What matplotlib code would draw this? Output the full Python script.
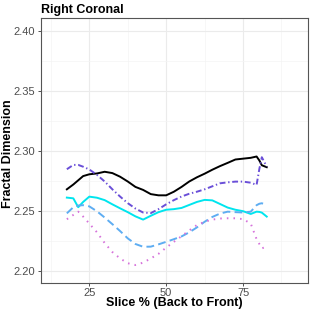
import numpy as np
import matplotlib
matplotlib.use("Agg")
from matplotlib import pyplot as plt
from matplotlib.ticker import FixedLocator

plt.rcParams['font.family'] = ['Liberation Sans', 'DejaVu Sans']

#------------------数据------------------#
slice_pct = [17.7, 19.8, 21.4, 23, 25, 27.5, 30, 32.5, 35, 37.5, 40, 42.5, 45, 47.5,
             50, 52.5, 55, 57.5, 60, 62.5, 65, 67.5, 70, 72.5, 75, 77.5, 79.4, 80.3,
             81.1, 82.7]

fd_black = [2.268, 2.272, 2.2755, 2.279, 2.2805, 2.2812, 2.2826, 2.2815, 2.2785, 2.2745,
            2.270, 2.2675, 2.264, 2.263, 2.263, 2.266, 2.270, 2.2745, 2.278, 2.281,
            2.2843, 2.2873, 2.290, 2.2928, 2.2935, 2.2942, 2.2953, 2.292, 2.288, 2.2864]

fd_purple = [2.2847, 2.2883, 2.2883, 2.2868, 2.2845, 2.280, 2.2745, 2.268, 2.262, 2.2565,
             2.252, 2.2487, 2.2482, 2.2515, 2.2555, 2.259, 2.262, 2.2643, 2.266, 2.268,
             2.2705, 2.273, 2.2738, 2.2744, 2.2744, 2.2735, 2.2717, 2.285, 2.2947, 2.2869]

fd_cyan = [2.2611, 2.2605, 2.2531, 2.2575, 2.2619, 2.261, 2.259, 2.2555, 2.2522, 2.249,
           2.2455, 2.2428, 2.246, 2.249, 2.251, 2.2515, 2.2525, 2.255, 2.2575, 2.2592,
           2.2588, 2.2558, 2.2528, 2.251, 2.2498, 2.2475, 2.2494, 2.2492, 2.2486, 2.2453]

fd_blue = [2.248, 2.2531, 2.2545, 2.2548, 2.2538, 2.2497, 2.2445, 2.239, 2.2333, 2.2272,
           2.2225, 2.2202, 2.2203, 2.2222, 2.2243, 2.2265, 2.2288, 2.2322, 2.2363, 2.241,
           2.245, 2.2478, 2.2494, 2.249, 2.2487, 2.2494, 2.2548, 2.256, 2.2564, 2.255]

fd_pink = [2.2431, 2.2467, 2.2494, 2.2453, 2.2395, 2.2322, 2.2233, 2.2158, 2.2105, 2.2065,
           2.205, 2.207, 2.2105, 2.2143, 2.2195, 2.2243, 2.229, 2.2338, 2.2383, 2.241,
           2.2428, 2.2437, 2.2439, 2.2439, 2.2432, 2.2395, 2.2265, 2.2225, 2.2189, 2.2203]

x_ticks = [25, 50, 75]
y_ticks = [2.20, 2.25, 2.30, 2.35, 2.40]

#------------------画图------------------#
fig = plt.figure(figsize=(3.12, 3.12), dpi=100)
ax = fig.add_axes([0.13, 0.092, 0.857, 0.849])

lw = 1.4
ax.plot(slice_pct, fd_black, color='black', lw=lw)
ax.plot(slice_pct, fd_purple, color='#6A4FD8', lw=lw, dashes=(3.0, 1.4, 0.7, 1.4))
ax.plot(slice_pct, fd_cyan, color='#00E5EE', lw=lw)
ax.plot(slice_pct, fd_blue, color='#5EADF2', lw=lw, dashes=(4.0, 2.2))
ax.plot(slice_pct, fd_pink, color='#D672DB', lw=lw, dashes=(0.8, 2.6))

ax.set_xlim(9.15, 96.1)
ax.set_ylim(2.1898, 2.4102)
ax.set_xticks(x_ticks)
ax.set_yticks(y_ticks)
ax.set_yticklabels([f"{v:.2f}" for v in y_ticks])
ax.xaxis.set_minor_locator(FixedLocator([12.5, 37.5, 62.5, 87.5]))
ax.yaxis.set_minor_locator(FixedLocator([2.225, 2.275, 2.325, 2.375]))

ax.grid(True, which='major', color='#EBEBEB', lw=0.8)
ax.grid(True, which='minor', color='#F4F4F4', lw=0.5)
ax.set_axisbelow(True)

for s in ax.spines.values():
    s.set_color('#555555')
    s.set_linewidth(0.8)

ax.tick_params(which='major', length=2.5, width=0.6, color='#333333',
               labelsize=8, labelcolor='#4D4D4D', pad=1.5)
ax.tick_params(axis='x', which='major', pad=0.8)
ax.tick_params(which='minor', length=0)

ax.set_xlabel('Slice % (Back to Front)', fontsize=9, fontweight='bold')
ax.xaxis.set_label_coords(0.5, -0.052)
ax.set_ylabel('Fractal Dimension', fontsize=9, fontweight='bold')
ax.yaxis.set_label_coords(-0.1, 0.49)
ax.set_title('Right Coronal', fontsize=9, fontweight='bold', loc='left', pad=4)

fig.savefig('out.png', dpi=100)
